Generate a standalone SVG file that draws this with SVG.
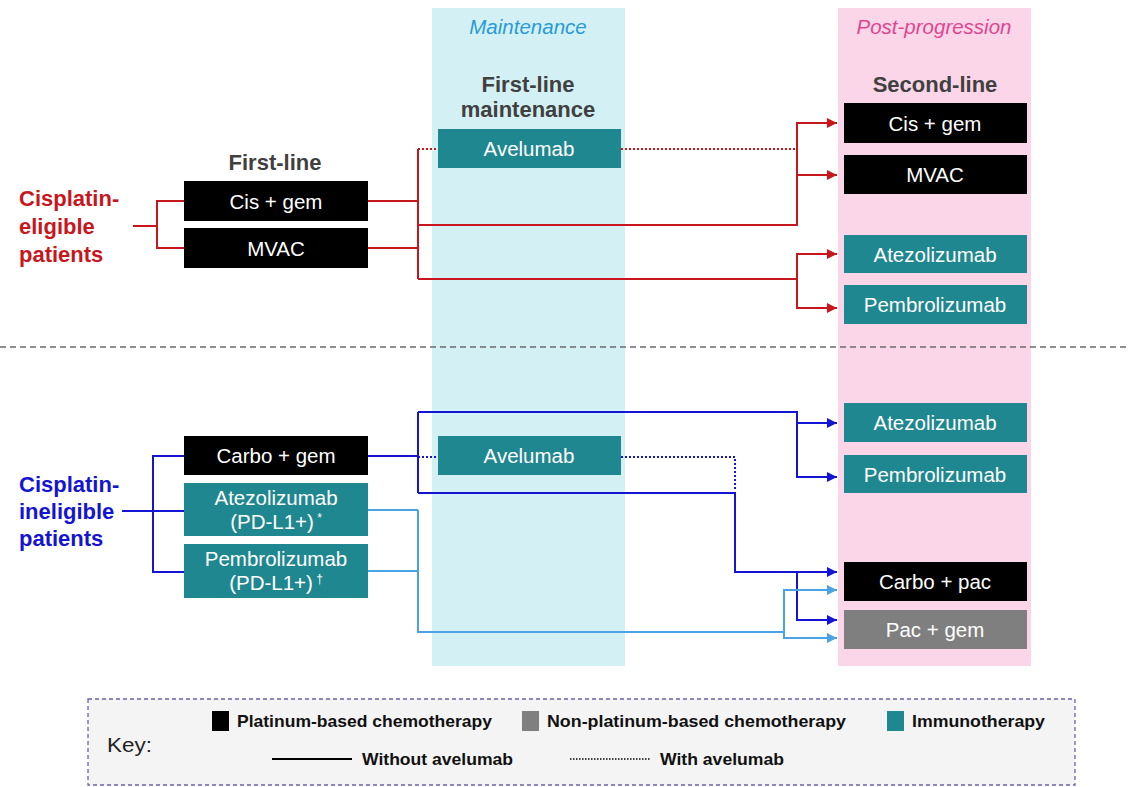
<svg xmlns="http://www.w3.org/2000/svg" width="1128" height="787" viewBox="0 0 1128 787">
<style>
text{font-family:"Liberation Sans",Arial,sans-serif}
.hd{font-size:22px;font-weight:bold;fill:#404040;text-anchor:middle}
.bx{font-size:20.5px;fill:#ffffff;text-anchor:middle}
.blk{fill:#000000}
.imm{fill:#1f8790}
.gry{fill:#7f7f7f}
.r{stroke:#c8161d;stroke-width:2;fill:none}
.b{stroke:#1414d4;stroke-width:2;fill:none}
.lb{stroke:#4aa3e6;stroke-width:2;fill:none}
.dot{stroke-dasharray:2 2}
.pt{font-size:22px;font-weight:bold}
.key{font-family:"Liberation Sans Narrow","Liberation Sans",Arial,sans-serif;font-size:17px;font-weight:bold;fill:#111}
</style>
<defs>
<marker id="ar" markerUnits="userSpaceOnUse" markerWidth="12" markerHeight="12" refX="10" refY="6" orient="auto"><path d="M0,1 L10,6 L0,11 Z" fill="#c8161d"/></marker>
<marker id="ab" markerUnits="userSpaceOnUse" markerWidth="12" markerHeight="12" refX="10" refY="6" orient="auto"><path d="M0,1 L10,6 L0,11 Z" fill="#1414d4"/></marker>
<marker id="al" markerUnits="userSpaceOnUse" markerWidth="12" markerHeight="12" refX="10" refY="6" orient="auto"><path d="M0,1 L10,6 L0,11 Z" fill="#4aa3e6"/></marker>
</defs>
<rect width="1128" height="787" fill="#ffffff"/>
<g id="bands">
<rect x="432" y="8" width="193" height="658" fill="#d3f1f5"/>
<rect x="838" y="8" width="193" height="658" fill="#fbd6e9"/>
<text x="528" y="34" text-anchor="middle" font-size="20.5" font-style="italic" fill="#2a9bd6">Maintenance</text>
<text x="934" y="34" text-anchor="middle" font-size="20.5" font-style="italic" fill="#e0458f">Post-progression</text>
<text class="hd" x="528" y="92">First-line</text>
<text class="hd" x="528" y="117">maintenance</text>
<text class="hd" x="935" y="92">Second-line</text>
<text class="hd" x="275" y="170">First-line</text>
</g>
<line x1="0" y1="347" x2="1128" y2="347" stroke="#6b6b6b" stroke-width="1.5" stroke-dasharray="6 4"/>
<g id="connectors">
<path class="r" d="M133,226 H157 M184,201 H157 V248 H184"/>
<path class="r" d="M368,201 H418 M368,248 H418 M418,149 V279"/>
<path class="r dot" d="M418,149 H438 M621,149 H797"/>
<path class="r" d="M418,225 H797 V123 H837" marker-end="url(#ar)"/>
<path class="r" d="M797,175 H837" marker-end="url(#ar)"/>
<path class="r" d="M418,279 H797 V254 H837" marker-end="url(#ar)"/>
<path class="r" d="M797,279 V308 H837" marker-end="url(#ar)"/>
<path class="b" d="M122,511 H153 M184,456 H153 V572 H184 M153,511 H184"/>
<path class="b" d="M368,456 H418 M418,412 V493"/>
<path class="b dot" d="M418,457 H438 M621,457 H735 V490"/>
<path class="b" d="M418,412 H797 V477 H837" marker-end="url(#ab)"/>
<path class="b" d="M797,423 H837" marker-end="url(#ab)"/>
<path class="b" d="M418,493 H735 V572 H837" marker-end="url(#ab)"/>
<path class="b" d="M797,572 V620 H837" marker-end="url(#ab)"/>
<path class="lb" d="M368,510 H418 M368,571 H418 M418,510 V632 H784"/>
<path class="lb" d="M784,632 V590 H837" marker-end="url(#al)"/>
<path class="lb" d="M784,632 V638 H837" marker-end="url(#al)"/>
</g>
<g id="eligible" fill="#c8161d">
<text class="pt" x="19" y="206">Cisplatin-</text>
<text class="pt" x="19" y="234">eligible</text>
<text class="pt" x="19" y="262">patients</text>
</g>
<g id="ineligible" fill="#1414d4">
<text class="pt" x="19" y="492">Cisplatin-</text>
<text class="pt" x="19" y="519">ineligible</text>
<text class="pt" x="19" y="546">patients</text>
</g>
<g id="fl-cisgem"><rect class="blk" x="184" y="181" width="184" height="40"/><text class="bx" x="276" y="208.5">Cis + gem</text></g>
<g id="fl-mvac"><rect class="blk" x="184" y="228" width="184" height="40"/><text class="bx" x="276" y="255.5">MVAC</text></g>
<g id="m-avelumab1"><rect class="imm" x="438" y="129" width="183" height="39"/><text class="bx" x="529" y="156">Avelumab</text></g>
<g id="sl-cisgem"><rect class="blk" x="844" y="103" width="183" height="40"/><text class="bx" x="935" y="130.5">Cis + gem</text></g>
<g id="sl-mvac"><rect class="blk" x="844" y="155" width="183" height="39"/><text class="bx" x="935" y="182">MVAC</text></g>
<g id="sl-atezo1"><rect class="imm" x="844" y="235" width="183" height="38"/><text class="bx" x="935" y="261.5">Atezolizumab</text></g>
<g id="sl-pembro1"><rect class="imm" x="844" y="285" width="183" height="39"/><text class="bx" x="935" y="312">Pembrolizumab</text></g>
<g id="fl-carbogem"><rect class="blk" x="184" y="436" width="184" height="39"/><text class="bx" x="276" y="463">Carbo + gem</text></g>
<g id="fl-atezo"><rect class="imm" x="184" y="483" width="184" height="53"/><text class="bx" x="276" y="505">Atezolizumab</text><text class="bx" x="276" y="529">(PD-L1+)<tspan font-size="12" dy="-7"> *</tspan></text></g>
<g id="fl-pembro"><rect class="imm" x="184" y="544" width="184" height="54"/><text class="bx" x="276" y="566">Pembrolizumab</text><text class="bx" x="276" y="590">(PD-L1+)<tspan font-size="12" dy="-7"> †</tspan></text></g>
<g id="m-avelumab2"><rect class="imm" x="438" y="436" width="183" height="39"/><text class="bx" x="529" y="463">Avelumab</text></g>
<g id="sl-atezo2"><rect class="imm" x="844" y="403" width="183" height="39"/><text class="bx" x="935" y="430">Atezolizumab</text></g>
<g id="sl-pembro2"><rect class="imm" x="844" y="455" width="183" height="38"/><text class="bx" x="935" y="481.5">Pembrolizumab</text></g>
<g id="sl-carbopac"><rect class="blk" x="844" y="562" width="183" height="39"/><text class="bx" x="935" y="589">Carbo + pac</text></g>
<g id="sl-pacgem"><rect class="gry" x="844" y="610" width="183" height="39"/><text class="bx" x="935" y="637">Pac + gem</text></g>
<g id="key">
<rect x="88" y="699" width="987" height="86" fill="#f4f4f4" stroke="#6a60b0" stroke-width="1.3" stroke-dasharray="4 3"/>
<text x="107" y="752" font-size="21" fill="#222" textLength="45" lengthAdjust="spacingAndGlyphs">Key:</text>
<rect x="212" y="711" width="17" height="20" fill="#000"/>
<text class="key" x="237" y="727" textLength="255" lengthAdjust="spacingAndGlyphs">Platinum-based chemotherapy</text>
<rect x="522" y="711" width="17" height="20" fill="#7f7f7f"/>
<text class="key" x="547" y="727" textLength="299" lengthAdjust="spacingAndGlyphs">Non-platinum-based chemotherapy</text>
<rect x="887" y="711" width="17" height="20" fill="#1f8790"/>
<text class="key" x="912" y="727" textLength="133" lengthAdjust="spacingAndGlyphs">Immunotherapy</text>
<line x1="272" y1="759" x2="352" y2="759" stroke="#000" stroke-width="2"/>
<text class="key" x="362" y="765" textLength="151" lengthAdjust="spacingAndGlyphs">Without avelumab</text>
<line x1="570" y1="759" x2="650" y2="759" stroke="#000" stroke-width="1.3" stroke-dasharray="1.5 1.5"/>
<text class="key" x="660" y="765" textLength="124" lengthAdjust="spacingAndGlyphs">With avelumab</text>
</g>
</svg>
